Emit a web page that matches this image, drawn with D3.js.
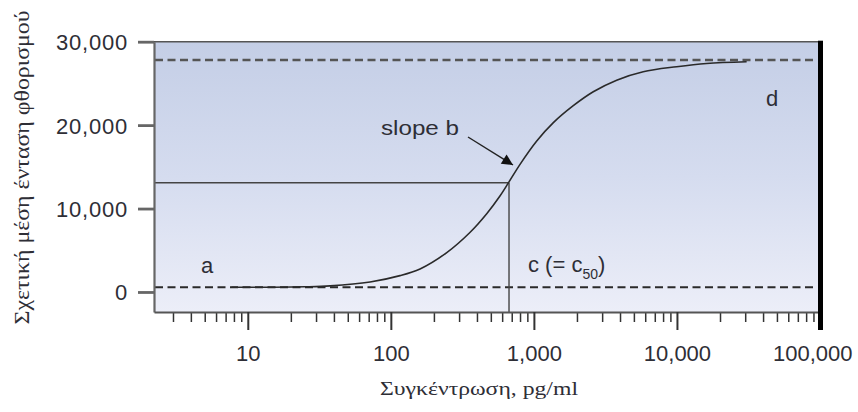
<!DOCTYPE html>
<html>
<head>
<meta charset="utf-8">
<script src="https://cdn.jsdelivr.net/npm/d3@7/dist/d3.min.js"></script>
<style>
  html, body { margin: 0; padding: 0; background: #ffffff; }
  svg { display: block; }
</style>
</head>
<body>
<svg id="chart" width="858" height="412"></svg>
<script>
// ---- data ----
const xTicks = [10, 100, 1000, 10000, 100000];
const xTickLabels = ["10", "100", "1,000", "10,000", "100,000"];
const yTicks = [0, 10000, 20000, 30000];
const yTickLabels = ["0", "10,000", "20,000", "30,000"];

const concentration = [7.7, 15, 25, 37.6, 71.6, 116, 160, 246, 357, 468, 579, 662, 800, 1047, 1368, 1885, 2600, 3790, 5810, 9950, 16100, 30700];
const intensity     = [560, 570, 620, 730, 1200, 1960, 2760, 4720, 7130, 9380, 11500, 13050, 15300, 18100, 20300, 22330, 24000, 25390, 26400, 27000, 27390, 27600];

const asymptoteA = 560;     // lower plateau a
const asymptoteD = 27800;   // upper plateau d
const c50 = 670;            // c (= c50)
const midIntensity = 13100; // response at c50

const xDomain = [2.21, 100000];
const yDomain = [-2400, 30000];

const yTitle = "Σχετική μέση ένταση φθορισμού";
const xTitle = "Συγκέντρωση, pg/ml";

// ---- drawing ----
const svg = d3.select("#chart");
const L = 154, R = 820, T = 41.7, B = 312;

const x = d3.scaleLog().domain(xDomain).range([L, R]);
const y = d3.scaleLinear().domain(yDomain).range([B, T]);

const sans = "'Liberation Sans', Arial, Helvetica, sans-serif";
const serif = "'Liberation Serif', 'Times New Roman', serif";
const textCol = "#2e2e36";

const defs = svg.append("defs");
const grad = defs.append("linearGradient").attr("id", "bg").attr("x1", 0).attr("y1", 0).attr("x2", 0).attr("y2", 1);
grad.append("stop").attr("offset", "0%").attr("stop-color", "#c4cee6");
grad.append("stop").attr("offset", "50%").attr("stop-color", "#d5dcef");
grad.append("stop").attr("offset", "100%").attr("stop-color", "#eceef8");

svg.append("rect").attr("x", L).attr("y", T).attr("width", R - L).attr("height", B - T).attr("fill", "url(#bg)");

// dashed asymptotes
[asymptoteD, asymptoteA].forEach((v, i) => {
  svg.append("line")
    .attr("x1", L + 1).attr("x2", R - 3)
    .attr("y1", y(v)).attr("y2", y(v))
    .attr("stroke", i === 0 ? "#555" : "#2a2a2a")
    .attr("stroke-width", i === 0 ? 2.4 : 2)
    .attr("stroke-dasharray", "8,4.5");
});

// c50 guide lines
svg.append("line").attr("x1", L).attr("x2", x(c50))
  .attr("y1", y(midIntensity)).attr("y2", y(midIntensity))
  .attr("stroke", "#444").attr("stroke-width", 1.4);
svg.append("line").attr("x1", x(c50)).attr("x2", x(c50))
  .attr("y1", y(midIntensity)).attr("y2", B)
  .attr("stroke", "#444").attr("stroke-width", 1.4);

// curve
const pts = concentration.map((c, i) => [c, intensity[i]]);
svg.append("path").datum(pts)
  .attr("d", d3.line().x(d => x(d[0])).y(d => y(d[1])).curve(d3.curveCatmullRom.alpha(0.5)))
  .attr("fill", "none").attr("stroke", "#2a2a2a").attr("stroke-width", 1.6);

// top border
svg.append("line").attr("x1", L).attr("x2", R).attr("y1", T).attr("y2", T)
  .attr("stroke", "#555").attr("stroke-width", 1.6);

// y axis
const yAxis = svg.append("g").attr("transform", `translate(${L},0)`)
  .call(d3.axisLeft(y).tickValues(yTicks).tickFormat((d, i) => yTickLabels[i]).tickSize(16).tickPadding(10).tickSizeOuter(0));
yAxis.select(".domain").attr("stroke", "#666").attr("stroke-width", 2.2);
yAxis.selectAll(".tick line").attr("stroke", "#666").attr("stroke-width", 2.8);
yAxis.selectAll(".tick text").attr("fill", textCol).attr("font-family", sans).attr("font-size", 22)
  .attr("letter-spacing", 0.8).attr("dy", "0.36em");

// x axis minor ticks
const minor = x.ticks().filter(v => !xTicks.includes(v));
const xMinor = svg.append("g").attr("transform", `translate(0,${B})`)
  .call(d3.axisBottom(x).tickValues(minor).tickSize(10).tickFormat(""));
xMinor.select(".domain").remove();
xMinor.selectAll(".tick line").attr("stroke", "#333").attr("stroke-width", 1.5);

// x axis major
const xAxis = svg.append("g").attr("transform", `translate(0,${B})`)
  .call(d3.axisBottom(x).tickValues(xTicks).tickFormat((d, i) => xTickLabels[i]).tickSize(18).tickSizeOuter(0));
xAxis.select(".domain").attr("stroke", "#555").attr("stroke-width", 1.8);
xAxis.selectAll(".tick line").attr("stroke", "#333").attr("stroke-width", 2);
xAxis.selectAll(".tick text").attr("fill", textCol).attr("font-family", sans).attr("font-size", 22)
  .attr("y", 49).attr("dy", 0);
// last label sits left of its tick so it stays inside the picture
xAxis.selectAll(".tick text").filter(d => d === xTicks[xTicks.length - 1])
  .attr("text-anchor", "end").attr("x", 32);

// thick right border
svg.append("rect").attr("x", R - 2).attr("y", T - 1).attr("width", 5).attr("height", B + 18 - T + 1).attr("fill", "#000");

// annotations
svg.append("text").attr("x", 201).attr("y", 273).attr("font-family", sans).attr("font-size", 22).attr("fill", textCol).text("a");
svg.append("text").attr("x", 766).attr("y", 106).attr("font-family", sans).attr("font-size", 22).attr("fill", textCol).text("d");
svg.append("text").attr("x", 381).attr("y", 135).attr("font-family", sans).attr("font-size", 21)
  .attr("textLength", 78).attr("lengthAdjust", "spacingAndGlyphs").attr("fill", textCol).text("slope b");

const cText = svg.append("text").attr("x", 528).attr("y", 272).attr("font-family", sans).attr("font-size", 22).attr("fill", textCol);
cText.append("tspan").text("c (= c");
cText.append("tspan").attr("font-size", 14).attr("dy", 7).text("50");
cText.append("tspan").attr("dy", -7).text(")");

// arrow
defs.append("marker").attr("id", "ah").attr("viewBox", "0 0 10 10").attr("refX", 10).attr("refY", 5)
  .attr("markerWidth", 16).attr("markerHeight", 11).attr("markerUnits", "userSpaceOnUse").attr("orient", "auto")
  .append("path").attr("d", "M0,0 L10,5 L0,10 Z").attr("fill", "#111");
svg.append("line").attr("x1", 468).attr("y1", 137).attr("x2", 513).attr("y2", 165)
  .attr("stroke", "#222").attr("stroke-width", 1.4).attr("marker-end", "url(#ah)");

// titles
svg.append("text").attr("transform", "translate(29,167.5) rotate(-90)").attr("text-anchor", "middle")
  .attr("font-family", serif).attr("font-size", 21).attr("fill", textCol)
  .attr("textLength", 314).attr("lengthAdjust", "spacingAndGlyphs").text(yTitle);
svg.append("text").attr("x", 479).attr("y", 395).attr("text-anchor", "middle")
  .attr("font-family", serif).attr("font-size", 18).attr("fill", textCol)
  .attr("textLength", 198).attr("lengthAdjust", "spacingAndGlyphs").text(xTitle);
</script>
</body>
</html>
